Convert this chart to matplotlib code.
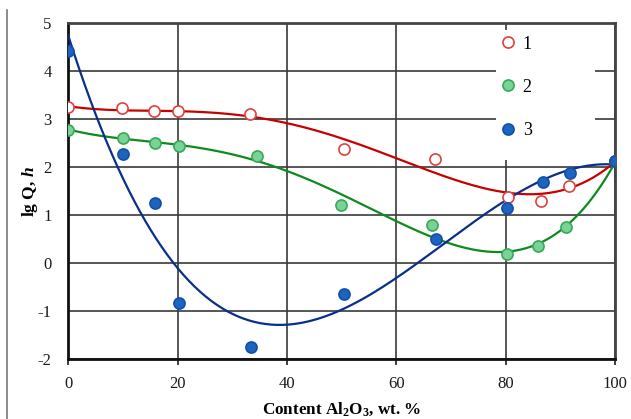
import numpy as np
import matplotlib
matplotlib.use("Agg")
import matplotlib.pyplot as plt
from matplotlib.patches import Rectangle
from matplotlib.lines import Line2D

plt.rcParams['font.family'] = ['Liberation Serif', 'DejaVu Serif']
plt.rcParams['axes.unicode_minus'] = False
plt.rcParams['mathtext.fontset'] = 'custom'
plt.rcParams['mathtext.rm'] = 'Liberation Serif:bold'
plt.rcParams['mathtext.it'] = 'Liberation Serif:bold:italic'
plt.rcParams['mathtext.bf'] = 'Liberation Serif:bold'

# Al2O3 content, wt. %, and lg Q for each glass series
x1 = [0, 9.9, 15.7, 20.0, 33.2, 50.4, 67.0, 80.5, 86.5, 91.5, 100]
y1 = [3.25, 3.23, 3.17, 3.17, 3.10, 2.38, 2.18, 1.39, 1.30, 1.62, 2.14]

x2 = [0, 9.95, 15.9, 20.3, 34.5, 49.8, 66.5, 80.2, 86.0, 91.0, 100]
y2 = [2.78, 2.62, 2.51, 2.45, 2.24, 1.21, 0.79, 0.19, 0.35, 0.75, 2.13]

x3 = [0, 9.95, 15.9, 20.3, 33.5, 50.5, 67.2, 80.2, 86.8, 91.8, 100]
y3 = [4.42, 2.28, 1.25, -0.83, -1.74, -0.63, 0.51, 1.15, 1.70, 1.89, 2.13]

labels = ['1', '2', '3']
degrees = [4, 4, 3]

line_colors = ['#c80000', '#0f8a1e', '#0a2f8a']
face_colors = ['white', '#78d394', '#1c64c0']
edge_colors = ['#e04040', '#3aa85c', '#1050a8']

fig = plt.figure(figsize=(6.31, 4.19), dpi=100)
ax = fig.add_axes([0.1082, 0.1425, 0.8664, 0.8019])

xs = np.linspace(0, 100, 300)
series = [(x1, y1), (x2, y2), (x3, y3)]
for i, (xd, yd) in enumerate(series):
    # polynomial trend line through each series
    coef = np.polyfit(xd, yd, degrees[i])
    ax.plot(xs, np.polyval(coef, xs), color=line_colors[i], lw=1.6, zorder=3)
    ax.plot(xd, yd, 'o', ms=8, mfc=face_colors[i], mec=edge_colors[i],
            mew=1.2, zorder=4)

ax.set_xlim(0, 100)
ax.set_ylim(-2, 5)
ax.set_xticks([0, 20, 40, 60, 80, 100])
ax.set_yticks(range(-2, 6))
ax.grid(True, color='#3a3a3a', lw=1.2)
ax.set_axisbelow(True)
ax.tick_params(axis='both', labelsize=12, colors='#1a1a1a')
ax.tick_params(axis='x', direction='out', length=4, width=1.2, pad=8)
ax.tick_params(axis='y', length=0, pad=12)
for s in ['left', 'bottom']:
    ax.spines[s].set_linewidth(2.0)
    ax.spines[s].set_color('#111111')
for s in ['top', 'right']:
    ax.spines[s].set_linewidth(2.0)
    ax.spines[s].set_color('#444444')

ax.set_xlabel('Content Al$_2$O$_3$, wt. %', fontsize=12.3, fontweight='bold',
              labelpad=6)
ax.set_ylabel('lg Q, $h$', fontsize=12.5, fontweight='bold', labelpad=-2)

# white patch behind the legend hides the grid there
ax.add_patch(Rectangle((0.782, 0.593), 0.181, 0.387, transform=ax.transAxes,
                       facecolor='white', edgecolor='none', zorder=2))
handles = [Line2D([], [], ls='none', marker='o', ms=8, mfc=face_colors[i],
                  mec=edge_colors[i], mew=1.2) for i in range(3)]
ax.legend(handles, labels, loc='upper left', bbox_to_anchor=(0.775, 0.985),
          frameon=False, fontsize=13, labelspacing=1.45, handlelength=1.0,
          handletextpad=0.3, borderaxespad=0)

# thin border line on the left edge of the figure
fig.add_artist(Line2D([7 / 631, 7 / 631], [0, 1 - 10 / 419],
                      transform=fig.transFigure, color='#777777', lw=1.2))

fig.savefig('out.png', dpi=100)
